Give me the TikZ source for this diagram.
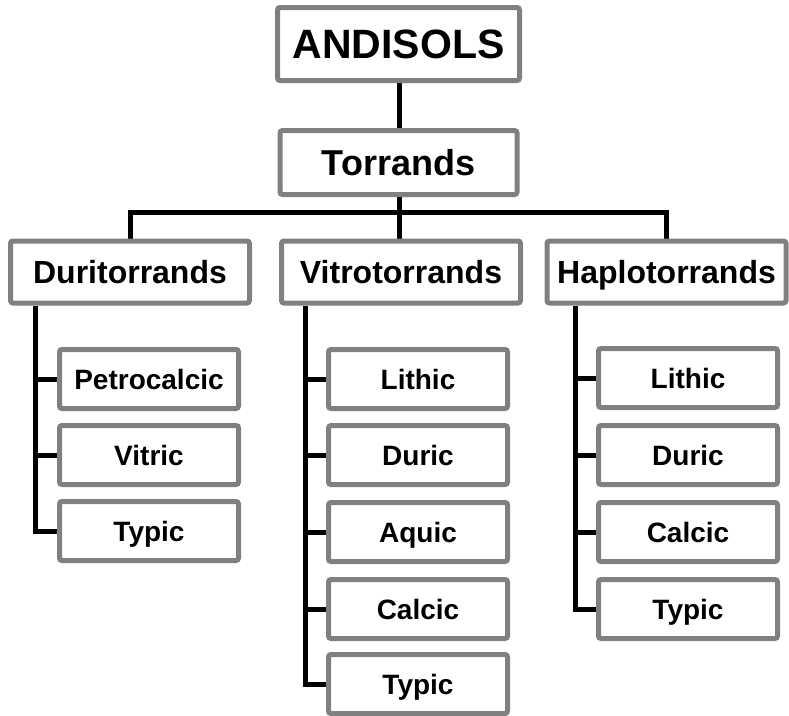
\documentclass[tikz,border=0pt]{standalone}
\usepackage{fontspec}
\setmainfont{Liberation Sans}
\definecolor{boxgray}{HTML}{808080}
\usetikzlibrary{backgrounds}
\begin{document}
\begin{tikzpicture}[x=1pt,y=-1pt,
  box/.style={draw=boxgray,fill=white,line width=5pt,rounded corners=2.5pt,
    outer sep=2.5pt,inner sep=0pt,text depth=0pt},
  topbox/.style={box,minimum width=242pt,minimum height=73pt,text height=29.4pt,font=\bfseries\fontsize{41}{45}\selectfont},
  secbox/.style={box,minimum width=237pt,minimum height=64pt,text height=25.8pt,font=\bfseries\fontsize{36}{40}\selectfont},
  grpbox/.style={box,minimum width=239pt,minimum height=62pt,text height=22.9pt,font=\bfseries\fontsize{32}{36}\selectfont},
  leafbox/.style={box,minimum width=179pt,minimum height=59pt,text height=20pt,font=\bfseries\fontsize{28}{32}\selectfont},
  conn/.style={draw=black,line width=5pt}]
\useasboundingbox (0,0) rectangle (789,715);

\node[topbox] (and) at (398.5,44) {ANDISOLS};
\node[secbox] (tor) at (398.5,162.5) {Torrands};

\node[grpbox] (duri) at (130,272) {Duritorrands};
\node[grpbox] (vitro) at (401,272) {Vitrotorrands};
\node[grpbox] (haplo) at (666.5,272) {Haplotorrands};

\node[leafbox] (dpetro) at (149,379) {Petrocalcic};
\node[leafbox] (dvitric) at (149,455) {Vitric};
\node[leafbox] (dtypic) at (149,531) {Typic};

\node[leafbox] (vlithic) at (418,379) {Lithic};
\node[leafbox] (vduric) at (418,455) {Duric};
\node[leafbox] (vaquic) at (418,532) {Aquic};
\node[leafbox] (vcalcic) at (418,609) {Calcic};
\node[leafbox] (vtypic) at (418,684) {Typic};

\node[leafbox] (hlithic) at (688,378) {Lithic};
\node[leafbox] (hduric) at (688,455) {Duric};
\node[leafbox] (hcalcic) at (688,532) {Calcic};
\node[leafbox] (htypic) at (688,609) {Typic};

\begin{scope}[on background layer]
% upper tree
\coordinate (bus) at (399,212);
\draw[conn] (and.south -| bus) -- (tor.north -| bus);
\draw[conn] (tor.south -| bus) -- (bus);
\draw[conn] (duri.north) |- (bus) -| (haplo.north);
\draw[conn] (vitro.north -| bus) -- (bus);

% Duritorrands spine
\coordinate (ds) at (35,0);
\draw[conn] (duri.south -| ds) |- (dtypic.west);
\draw[conn] (dpetro.west) -- (dpetro.west -| ds);
\draw[conn] (dvitric.west) -- (dvitric.west -| ds);

% Vitrotorrands spine
\coordinate (vs) at (305,0);
\draw[conn] (vitro.south -| vs) |- (vtypic.west);
\draw[conn] (vlithic.west) -- (vlithic.west -| vs);
\draw[conn] (vduric.west) -- (vduric.west -| vs);
\draw[conn] (vaquic.west) -- (vaquic.west -| vs);
\draw[conn] (vcalcic.west) -- (vcalcic.west -| vs);

% Haplotorrands spine
\coordinate (hs) at (575,0);
\draw[conn] (haplo.south -| hs) |- (htypic.west);
\draw[conn] (hlithic.west) -- (hlithic.west -| hs);
\draw[conn] (hduric.west) -- (hduric.west -| hs);
\draw[conn] (hcalcic.west) -- (hcalcic.west -| hs);
\end{scope}
\end{tikzpicture}
\end{document}
